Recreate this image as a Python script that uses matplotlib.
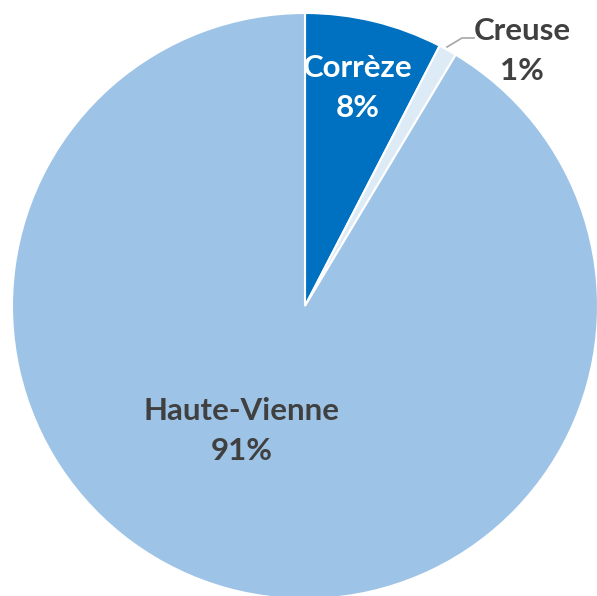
import matplotlib
matplotlib.use("Agg")
import matplotlib.pyplot as plt

categories = ["Corrèze", "Creuse", "Haute-Vienne"]
values = [7.6, 1.0, 91.4]
colors = ["#0070C0", "#DDEBF7", "#9DC3E6"]
label_colors = ["white", "#404040", "#404040"]

W, H = 597, 596
fig = plt.figure(figsize=(W / 100, H / 100), dpi=100)
ax = fig.add_axes([0, 0, 1, 1])

cx, cy, r = 305, H - 306, 293
wedges, _ = ax.pie(values, colors=colors, startangle=90, counterclock=False,
                   center=(cx, cy), radius=r, frame=True,
                   wedgeprops=dict(edgecolor="white", linewidth=1.5))
ax.set_xlim(0, W)
ax.set_ylim(0, H)
ax.set_aspect("equal")
ax.axis("off")

font = dict(family=["Lato", "DejaVu Sans"], fontweight="bold", fontsize=22.5,
            ha="center", va="center", linespacing=1.55)
label_pos = [(358, H - 88), (522, H - 51), (242, H - 431)]
for cat, v, col, (x, y) in zip(categories, values, label_colors, label_pos):
    ax.text(x, y, f"{cat}\n{v:.0f}%", color=col, **font)

# leader line for Creuse
ax.plot([447, 462, 474], [H - 47, H - 38, H - 38], color="#A6A6A6", lw=1.2)

fig.savefig("out.png", dpi=100)
